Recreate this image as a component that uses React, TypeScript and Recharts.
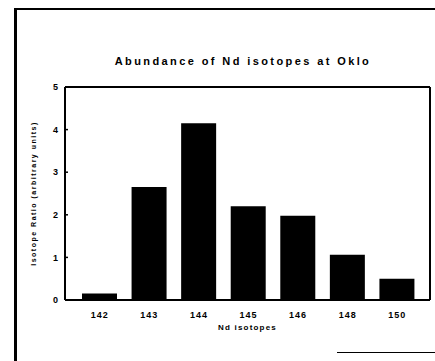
import React from 'react';
import { BarChart, Bar, XAxis, YAxis } from 'recharts';

const isotopes = ['142', '143', '144', '145', '146', '148', '150'];
const abundance = [0.15, 2.65, 4.15, 2.2, 1.98, 1.06, 0.5];
const yTicks = [0, 1, 2, 3, 4, 5];

const data = isotopes.map((name, i) => ({ name, value: abundance[i] }));

const font = '"Liberation Sans", Arial, sans-serif';
const tickStyle = { fontFamily: font, fontSize: 9, fontWeight: 'bold', fill: '#000', letterSpacing: 1 };

export default function App() {
  return (
    <div style={{ position: 'absolute', left: 0, top: 0, width: 435, height: 361, background: '#fff', overflow: 'hidden' }}>
      <div style={{ position: 'absolute', left: 14, top: 8, width: 430, height: 400, borderLeft: '3px solid #000', borderTop: '2px solid #000' }} />
      <div style={{ position: 'absolute', left: 337, top: 352, width: 100, height: 0, borderTop: '1px solid #000' }} />
      <div style={{ position: 'absolute', left: 51, top: 55, width: 384, textAlign: 'center', fontFamily: font, fontSize: 11, fontWeight: 'bold', letterSpacing: 2.4, color: '#000' }}>
        Abundance of Nd isotopes at Oklo
      </div>
      <div style={{ position: 'absolute', left: 0, top: 0 }}>
        <BarChart width={435} height={361} data={data} margin={{ top: 86, right: 4, bottom: 0, left: 0 }} barSize={35}>
          <XAxis
            dataKey="name"
            xAxisId="bottom"
            height={61}
            padding={{ left: 10, right: 8 }}
            axisLine={{ stroke: '#000', strokeWidth: 2 }}
            tickLine={false}
            tick={tickStyle}
            tickMargin={6}
            label={{ value: 'Nd isotopes', position: 'insideTop', offset: 24, style: { fontFamily: font, fontSize: 8, fontWeight: 'bold', fill: '#000', letterSpacing: 1.2 } }}
          />
          <XAxis dataKey="name" xAxisId="top" orientation="top" height={1} axisLine={{ stroke: '#000', strokeWidth: 2 }} tick={false} tickLine={false} />
          <YAxis
            yAxisId="left"
            width={65}
            domain={[0, 5]}
            ticks={yTicks}
            axisLine={{ stroke: '#000', strokeWidth: 2 }}
            tickLine={{ stroke: '#000', strokeWidth: 1.5 }}
            tickSize={-3}
            tickMargin={9}
            tick={tickStyle}
            label={{ value: 'Isotope Ratio (arbitrary units)', angle: -90, position: 'center', dx: 1, style: { fontFamily: font, fontSize: 7, fontWeight: 'bold', fill: '#000', letterSpacing: 1.5, textAnchor: 'middle' } }}
          />
          <YAxis yAxisId="right" orientation="right" width={1} domain={[0, 5]} axisLine={{ stroke: '#000', strokeWidth: 2 }} tick={false} tickLine={false} />
          <Bar dataKey="value" xAxisId="bottom" yAxisId="left" fill="#000" isAnimationActive={false} />
        </BarChart>
      </div>
    </div>
  );
}
